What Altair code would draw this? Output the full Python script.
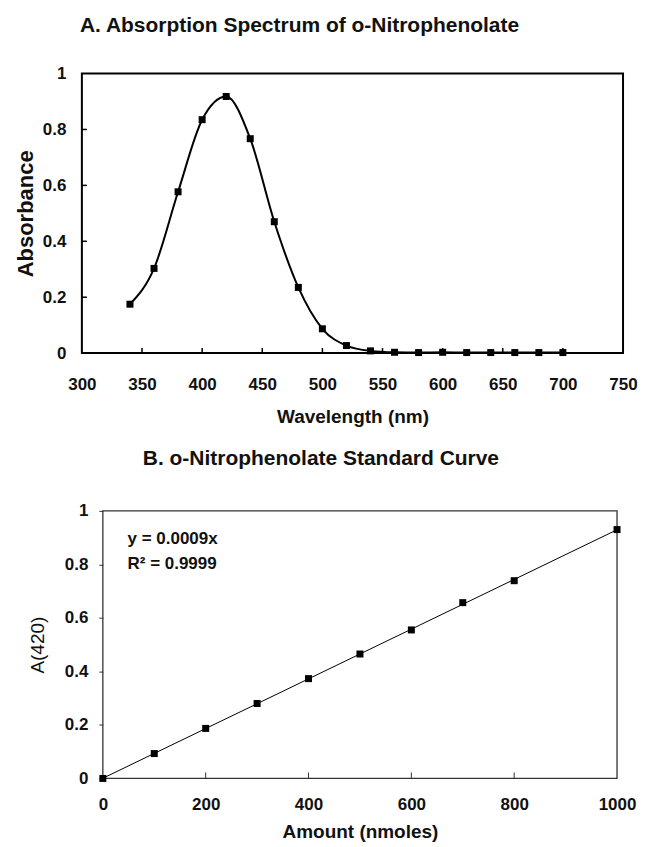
import altair as alt
import pandas as pd

# ---------------- data ----------------
wavelength = [340, 360, 380, 400, 420, 440, 460, 480, 500, 520, 540, 560, 580, 600, 620, 640, 660, 680, 700]
absorbance = [0.175, 0.303, 0.577, 0.835, 0.918, 0.767, 0.470, 0.235, 0.087, 0.027, 0.008,
              0.003, 0.002, 0.003, 0.002, 0.002, 0.002, 0.002, 0.002]

amount = [0, 100, 200, 300, 400, 500, 600, 700, 800, 1000]
a420 = [0.0, 0.093, 0.187, 0.280, 0.373, 0.465, 0.555, 0.657, 0.739, 0.930]

wl_ticks = [300, 350, 400, 450, 500, 550, 600, 650, 700, 750]
amt_ticks = [0, 200, 400, 600, 800, 1000]
abs_ticks = [0, 0.2, 0.4, 0.6, 0.8, 1]

title_a = "A. Absorption Spectrum of o-Nitrophenolate"
title_b = "B. o-Nitrophenolate Standard Curve"
eq_text = ["y = 0.0009x", "R² = 0.9999"]

# ---------------- style ----------------
FONT = "Liberation Sans"
INK = "#111111"
WA, HA = 542, 280
WB, HB = 536, 268
B_LEFT = 21
TICK = 5

df_a = pd.DataFrame({"wl": wavelength, "ab": absorbance})
df_b = pd.DataFrame({"amt": amount, "ab": a420})

lab = dict(labelFont=FONT, labelFontSize=17, labelFontWeight="bold", labelColor=INK,
           labelFlush=False, labelOverlap=False,
           titleFont=FONT, titleFontWeight="bold", titleColor=INK, grid=False, domain=False)

# ---------------- panel A ----------------
xa = alt.X("wl:Q", scale=alt.Scale(domain=[300, 750], nice=False, zero=False),
           axis=alt.Axis(values=wl_ticks, format="d", title="Wavelength (nm)", ticks=False,
                         tickSize=0, labelPadding=23, titleFontSize=19, titlePadding=15, **lab))
ya = alt.Y("ab:Q", scale=alt.Scale(domain=[0, 1], nice=False),
           axis=alt.Axis(values=abs_ticks, format="~g", title="Absorbance", ticks=False,
                         tickSize=0, labelPadding=16, titleFontSize=22, titlePadding=5, **lab))

base_a = alt.Chart(df_a)
frame_a = alt.Chart(pd.DataFrame({"wl": [300], "wl2": [750], "ab": [0], "ab2": [1]})).mark_rect(
    fillOpacity=0, stroke="black", strokeWidth=2).encode(x="wl:Q", x2="wl2:Q", y="ab:Q", y2="ab2:Q")
line_a = base_a.mark_line(color="black", strokeWidth=2, interpolate="monotone").encode(x=xa, y=ya)
pts_a = base_a.mark_square(size=49, color="black", opacity=1).encode(x="wl:Q", y="ab:Q")
xt_a = alt.Chart(pd.DataFrame({"wl": wl_ticks[1:-1]})).mark_rule(color="black", strokeWidth=1.5).encode(
    x="wl:Q", y=alt.datum(0), y2=alt.datum(TICK / HA))
yt_a = alt.Chart(pd.DataFrame({"ab": abs_ticks[1:-1]})).mark_rule(color="black", strokeWidth=1.5).encode(
    y="ab:Q", x=alt.datum(300), x2=alt.datum(300 + TICK * 450 / WA))

panel_a = alt.layer(line_a, frame_a, pts_a, xt_a, yt_a).properties(
    width=WA, height=HA,
    title=alt.TitleParams(title_a, font=FONT, fontSize=21, fontWeight="bold", color=INK,
                          anchor="start", frame="group", dx=-2, offset=29),
)

# ---------------- panel B ----------------
xb = alt.X("amt:Q", scale=alt.Scale(domain=[0, 1000], range=[B_LEFT, WB], nice=False, zero=False),
           axis=alt.Axis(values=amt_ticks, format="d", title="Amount (nmoles)", ticks=False,
                         tickSize=0, labelPadding=18, titleFontSize=19, titlePadding=10, **lab))
yb = alt.Y("ab:Q", scale=alt.Scale(domain=[0, 1], nice=False),
           axis=alt.Axis(values=abs_ticks, format="~g", title="A(420)", offset=-B_LEFT, ticks=True,
                         tickSize=4, tickColor="#333333", labelPadding=11, titleFontSize=19,
                         titlePadding=17, **{**lab, "titleFontWeight": "normal"}))

base_b = alt.Chart(df_b)
frame_b = alt.Chart(pd.DataFrame({"amt": [0], "amt2": [1000], "ab": [0], "ab2": [1]})).mark_rect(
    fillOpacity=0, stroke="#333333", strokeWidth=1.3).encode(x="amt:Q", x2="amt2:Q", y="ab:Q", y2="ab2:Q")
fit_b = base_b.transform_regression("amt", "ab", extent=[0, 1000]).mark_line(
    color="black", strokeWidth=1).encode(x=xb, y=yb)
pts_b = base_b.mark_square(size=49, color="black", opacity=1).encode(x="amt:Q", y="ab:Q")
xt_b = alt.Chart(pd.DataFrame({"amt": amt_ticks[1:-1]})).mark_rule(color="#333333", strokeWidth=1).encode(
    x="amt:Q", y=alt.datum(0), y2=alt.datum(6 / HB))
eq1 = alt.Chart(pd.DataFrame({"label": [eq_text[0]]})).mark_text(
    align="left", baseline="alphabetic", font=FONT, fontSize=17, fontWeight="bold", color=INK).encode(
    x=alt.datum(48), y=alt.datum(0.877), text="label:N")
eq2 = alt.Chart(pd.DataFrame({"label": [eq_text[1]]})).mark_text(
    align="left", baseline="alphabetic", font=FONT, fontSize=17, fontWeight="bold", color=INK).encode(
    x=alt.datum(48), y=alt.datum(0.784), text="label:N")

panel_b = alt.layer(fit_b, frame_b, pts_b, xt_b, eq1, eq2).properties(
    width=WB, height=HB,
    title=alt.TitleParams(title_b, font=FONT, fontSize=21, fontWeight="bold", color=INK,
                          anchor="start", frame="group", dx=61, offset=33),
)

chart = alt.vconcat(panel_a, panel_b, spacing=20).properties(
    background="white", padding={"left": 5, "top": 5, "right": 0, "bottom": 0}
).configure_view(stroke="transparent")

chart.save("out.html", embed_options={"renderer": "svg", "actions": False})
